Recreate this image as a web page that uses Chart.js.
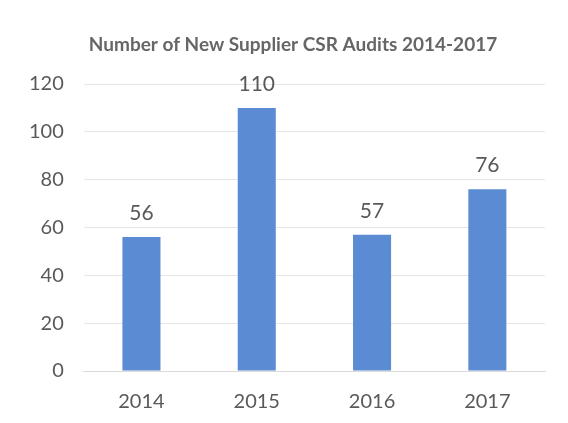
<!DOCTYPE html>
<html>
<head>
<meta charset="utf-8">
<script src="https://cdn.jsdelivr.net/npm/chart.js@4/dist/chart.umd.min.js"></script>
<style>
  html, body { margin: 0; padding: 0; background: #fff; overflow: hidden; }
  canvas { display: block; }
</style>
</head>
<body>
<canvas id="chart" width="568" height="423"></canvas>
<script>
const years = ["2014", "2015", "2016", "2017"];
const audits = [56, 110, 57, 76];
const yTicks = [0, 20, 40, 60, 80, 100, 120];
const titleText = "Number of New Supplier CSR Audits 2014-2017";

// value above each bar, plus the title centred on the page
const barLabels = {
  id: "barLabels",
  afterDatasetsDraw(chart) {
    const ctx = chart.ctx;
    const meta = chart.getDatasetMeta(0);
    ctx.save();
    ctx.font = "21px Lato, 'Open Sans', sans-serif";
    ctx.fillStyle = "#595959";
    ctx.textAlign = "center";
    ctx.textBaseline = "alphabetic";
    meta.data.forEach((bar, i) => {
      ctx.fillText(String(audits[i]), bar.x, bar.y - 17);
    });
    ctx.font = "bold 19px Lato, 'Open Sans', sans-serif";
    ctx.fillStyle = "#666666";
    ctx.textBaseline = "middle";
    ctx.fillText(titleText, 293, 45);
    ctx.restore();
  },
};

const ctx = document.getElementById("chart").getContext("2d");
new Chart(ctx, {
  type: "bar",
  data: {
    labels: years,
    datasets: [{
      data: audits,
      backgroundColor: "#5b8cd3",
      borderWidth: 0,
      barPercentage: 0.33,
      categoryPercentage: 1,
    }],
  },
  options: {
    responsive: false,
    animation: false,
    layout: { padding: { left: 9, right: 23, top: 84, bottom: 9 } },
    plugins: {
      legend: { display: false },
      tooltip: { enabled: false },
      title: { display: false },
    },
    scales: {
      x: {
        grid: { display: false, drawTicks: false },
        border: { color: "#d9d9d9" },
        afterFit(axis) {
          axis.height = 43;
        },
        ticks: {
          color: "#595959",
          font: { family: "Lato, 'Open Sans', sans-serif", size: 20 },
          padding: 19,
        },
      },
      y: {
        min: 0,
        max: 120,
        afterBuildTicks(axis) {
          axis.ticks = yTicks.map((v) => ({ value: v }));
        },
        grid: { color: "#e6e6e6", drawTicks: false },
        border: { display: false },
        ticks: {
          color: "#595959",
          font: { family: "Lato, 'Open Sans', sans-serif", size: 20 },
          padding: 20,
        },
      },
    },
  },
  plugins: [barLabels],
});
</script>
</body>
</html>
